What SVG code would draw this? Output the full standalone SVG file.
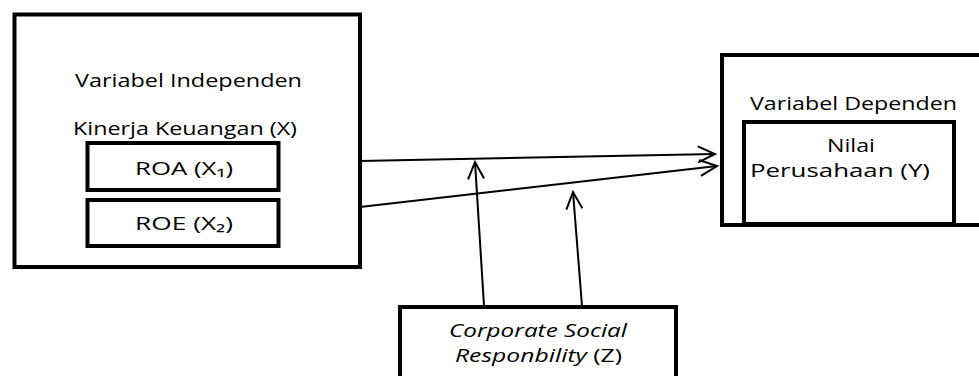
<svg xmlns="http://www.w3.org/2000/svg" width="979" height="376" viewBox="0 0 979 376">
<style>
.box{fill:none;stroke:#000;stroke-width:4}
.t{font-family:"Open Sans","Noto Sans","DejaVu Sans",sans-serif;font-size:19px;fill:#000}
.c{stroke:#000;stroke-width:2;fill:none}
</style>
<defs>
<marker id="arr" viewBox="-20 -12 24 24" markerWidth="24" markerHeight="24" refX="0" refY="0" orient="auto" markerUnits="userSpaceOnUse">
<path d="M-17,-8 L0,0 L-17,8" fill="none" stroke="#000" stroke-width="2"/>
</marker>
</defs>
<rect width="979" height="376" fill="#fff"/>
<g id="independen">
<rect class="box" x="14.5" y="14.5" width="345.5" height="252.5"/>
<text class="t" x="75" y="87" textLength="227" lengthAdjust="spacingAndGlyphs">Variabel Independen</text>
<text class="t" x="73" y="135" textLength="224" lengthAdjust="spacingAndGlyphs">Kinerja Keuangan (X)</text>
</g>
<g id="roa">
<rect class="box" x="87.5" y="143" width="191" height="47"/>
<text class="t" x="135" y="175" textLength="98" lengthAdjust="spacingAndGlyphs">ROA (X₁)</text>
</g>
<g id="roe">
<rect class="box" x="87.5" y="200" width="191" height="46"/>
<text class="t" x="135" y="230" textLength="98" lengthAdjust="spacingAndGlyphs">ROE (X₂)</text>
</g>
<g id="dependen">
<rect class="box" x="722" y="55" width="300" height="170"/>
<text class="t" x="750" y="110" textLength="207" lengthAdjust="spacingAndGlyphs">Variabel Dependen</text>
</g>
<g id="nilai">
<rect class="box" x="744" y="122" width="210" height="102"/>
<text class="t" x="827" y="152" textLength="48" lengthAdjust="spacingAndGlyphs">Nilai</text>
<text class="t" x="750" y="177" textLength="180" lengthAdjust="spacingAndGlyphs">Perusahaan (Y)</text>
</g>
<g id="csr">
<rect class="box" x="400" y="307" width="276" height="100"/>
<text class="t" x="449" y="337" textLength="178" lengthAdjust="spacingAndGlyphs" font-style="italic">Corporate Social</text>
<text class="t" x="455" y="362" textLength="167" lengthAdjust="spacingAndGlyphs"><tspan font-style="italic">Responbility</tspan> (Z)</text>
</g>
<g id="connectors">
<line class="c" x1="360" y1="161" x2="715" y2="154" marker-end="url(#arr)"/>
<line class="c" x1="360" y1="207" x2="717" y2="166" marker-end="url(#arr)"/>
<line class="c" x1="484" y1="306" x2="475" y2="162" marker-end="url(#arr)"/>
<line class="c" x1="582" y1="306" x2="573" y2="192" marker-end="url(#arr)"/>
</g>
</svg>
